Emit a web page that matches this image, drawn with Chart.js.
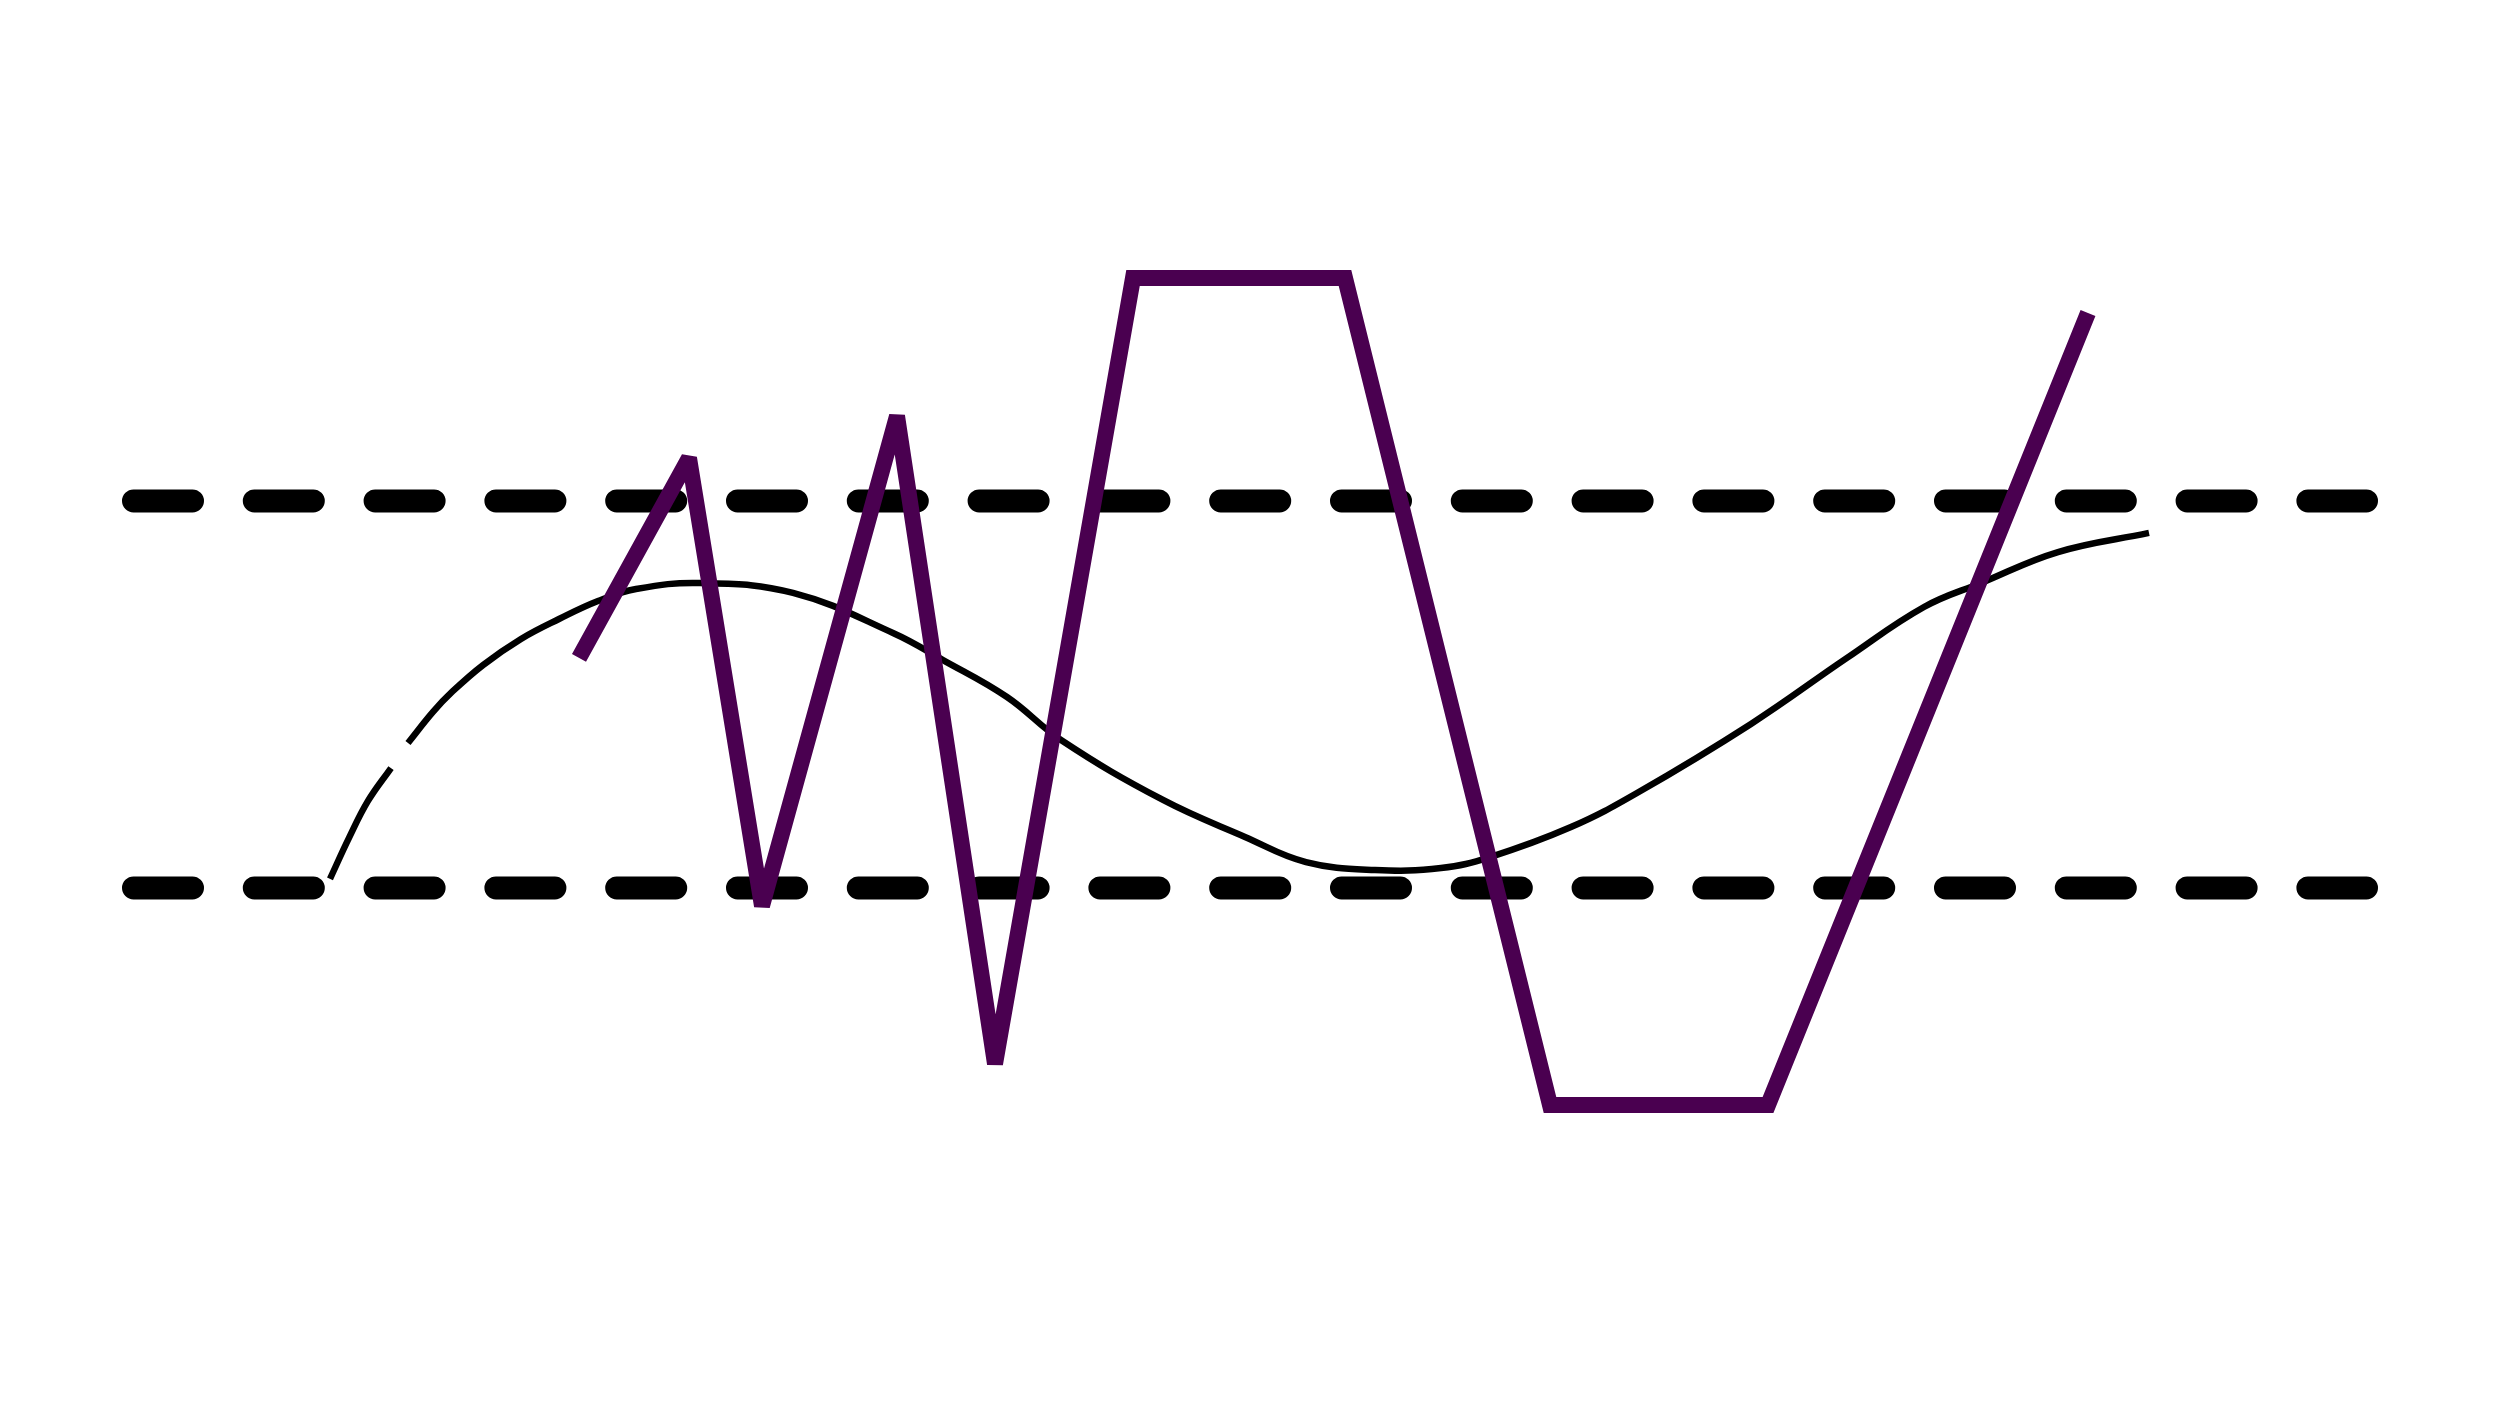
<!DOCTYPE html>
<html>
<head>
<meta charset="utf-8">
<script src="https://cdn.jsdelivr.net/npm/chart.js@4.4.1/dist/chart.umd.min.js"></script>
<style>
  html, body { margin: 0; padding: 0; background: #fff; }
  #wrap { width: 2500px; height: 1406px; position: relative; }
</style>
</head>
<body>
<div id="wrap"><canvas id="chart"></canvas></div>
<script>
// Zig-zag series (purple)
const zigX = [5.79, 6.89, 7.62, 8.97, 9.95, 11.33, 13.45, 15.50, 17.68, 20.88];
const zigY = [0.189, 1.222, -1.093, 1.439, -1.909, 2.152, 2.152, -2.121, -2.121, 1.972];

// Smooth wave (black), null marks the small break near the start
const waveX = [3.30, 3.49, 3.68, 3.91, 4.00, 4.08, 4.33, 4.52, 4.83, 5.21, 5.59, 5.98, 6.36, 7.00,
               7.93, 8.93, 9.43, 10.07, 10.61, 11.63, 12.45, 13.06, 13.75, 14.41, 14.90, 15.71,
               16.37, 17.51, 18.47, 19.24, 19.81, 20.58, 21.49];
const waveY = [-0.953, -0.741, -0.550, -0.380, null, -0.251, -0.090, 0.013, 0.152, 0.287, 0.390, 0.483, 0.545, 0.576,
               0.525, 0.318, 0.178, -0.013, -0.235, -0.545, -0.736, -0.866, -0.907, -0.897, -0.840, -0.685,
               -0.509, -0.152, 0.189, 0.452, 0.576, 0.736, 0.835];

// Dashed reference levels
const refLevels = [1, -1];
const refFrom = 1.335;
const refTo = 23.665;

const toPoints = (xs, ys) => xs.map((x, i) => ({ x: x, y: ys[i] }));

const datasets = [
    {
        label: 'zigzag',
        data: toPoints(zigX, zigY),
        borderColor: '#4a0050',
        borderWidth: 16,
        borderJoinStyle: 'miter',
        borderCapStyle: 'butt',
        pointRadius: 0,
        tension: 0
    },
    {
        label: 'wave',
        data: toPoints(waveX, waveY),
        borderColor: '#000000',
        borderWidth: 6.5,
        pointRadius: 0,
        tension: 0.4,
        spanGaps: false
    }
];

refLevels.forEach(level => {
    datasets.push({
        label: 'ref ' + level,
        data: [{ x: refFrom, y: level }, { x: refTo, y: level }],
        borderColor: '#000000',
        borderWidth: 23,
        borderCapStyle: 'round',
        borderDash: [59, 61.8],
        pointRadius: 0,
        tension: 0
    });
});

// sharp peaks get cut flat, square corners stay mitered
const miterPlugin = {
    id: 'miterLimit',
    beforeDatasetsDraw(chart) {
        chart.ctx.miterLimit = 2;
    }
};

new Chart(document.getElementById('chart'), {
    type: 'line',
    data: { datasets: datasets },
    plugins: [miterPlugin],
    options: {
        responsive: true,
        maintainAspectRatio: false,
        animation: false,
        layout: { padding: 0 },
        plugins: {
            legend: { display: false },
            tooltip: { enabled: false }
        },
        scales: {
            x: { type: 'linear', min: 0, max: 25, display: false },
            y: { type: 'linear', min: -3.677, max: 3.589, display: false }
        }
    }
});
</script>
</body>
</html>
